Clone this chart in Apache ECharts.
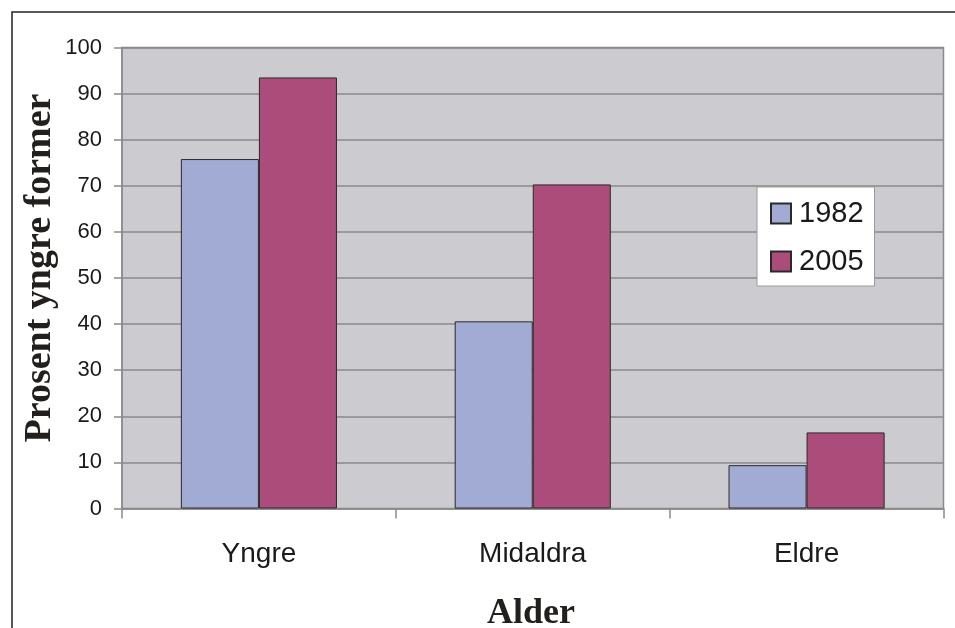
<!DOCTYPE html>
<html>
<head>
<meta charset="utf-8">
<script src="https://cdn.jsdelivr.net/npm/echarts@6/dist/echarts.min.js"></script>
<style>
html,body{margin:0;padding:0;background:#fff;}
#chart{width:955px;height:628px;}
</style>
</head>
<body>
<div id="chart"></div>
<script>
var categories = ['Yngre', 'Midaldra', 'Eldre'];
var seriesNames = ['1982', '2005'];
var values1982 = [75.8, 40.6, 9.4];
var values2005 = [93.5, 70.3, 16.5];
var yTicks = { min: 0, max: 100, interval: 10 };
var yTitle = 'Prosent yngre former';
var xTitle = 'Alder';

var chart = echarts.init(document.getElementById('chart'), null, { renderer: 'canvas' });
var sans = '"Liberation Sans", Arial, sans-serif';
var serif = '"Liberation Serif", "Times New Roman", serif';

chart.setOption({
  animation: false,
  backgroundColor: '#ffffff',
  grid: {
    left: 122, right: 11.5, top: 47.5, bottom: 119.5,
    show: true, backgroundColor: '#CBCBD0', borderColor: '#8a8a8a', borderWidth: 1.5
  },
  legend: {
    orient: 'vertical',
    left: 757, top: 187,
    backgroundColor: '#ffffff',
    borderColor: '#9a9a9a', borderWidth: 1,
    padding: [12, 11, 10, 13],
    itemWidth: 20, itemHeight: 20, itemGap: 19,
    icon: 'rect',
    data: seriesNames,
    textStyle: { fontFamily: sans, fontSize: 29, color: '#1a1a1a', padding: [0, 0, 0, 3] }
  },
  xAxis: {
    type: 'category',
    data: categories,
    axisLine: { show: true, lineStyle: { color: '#8a8a8a', width: 1.5 } },
    axisTick: { show: true, length: 10, alignWithLabel: false, lineStyle: { color: '#8a8a8a', width: 1.5 } },
    axisLabel: { fontFamily: sans, fontSize: 28, color: '#1a1a1a', margin: 32 },
    splitLine: { show: false }
  },
  yAxis: {
    type: 'value',
    min: yTicks.min, max: yTicks.max, interval: yTicks.interval,
    axisLine: { show: true, lineStyle: { color: '#8a8a8a', width: 1.5 } },
    axisTick: { show: true, length: 8, inside: false, lineStyle: { color: '#8a8a8a', width: 1.5 } },
    axisLabel: { fontFamily: sans, fontSize: 22, color: '#1a1a1a', margin: 20 },
    splitLine: { show: true, lineStyle: { color: '#8a8a8a', width: 1.5 } }
  },
  series: [
    {
      name: seriesNames[0], type: 'bar', data: values1982,
      barGap: '0%', barCategoryGap: '43%',
      itemStyle: { color: '#A2ABD3', borderColor: '#2a2a2a', borderWidth: 1 }
    },
    {
      name: seriesNames[1], type: 'bar', data: values2005,
      barGap: '0%', barCategoryGap: '43%',
      itemStyle: { color: '#AC4C7A', borderColor: '#2a2a2a', borderWidth: 1 }
    }
  ],
  graphic: [
    {
      type: 'rect', silent: true, z: -1,
      shape: { x: 12, y: 12, width: 1200, height: 1000 },
      style: { fill: 'none', stroke: '#222', lineWidth: 1.5 }
    },
    {
      type: 'text', x: 40, y: 268, rotation: Math.PI / 2,
      style: { text: yTitle, font: 'bold 38px ' + serif, fill: '#231f1c', textAlign: 'center', textVerticalAlign: 'middle' }
    },
    {
      type: 'text', x: 531, y: 614,
      style: { text: xTitle, font: 'bold 36px ' + serif, fill: '#231f1c', textAlign: 'center', textVerticalAlign: 'middle' }
    }
  ]
});
</script>
</body>
</html>
